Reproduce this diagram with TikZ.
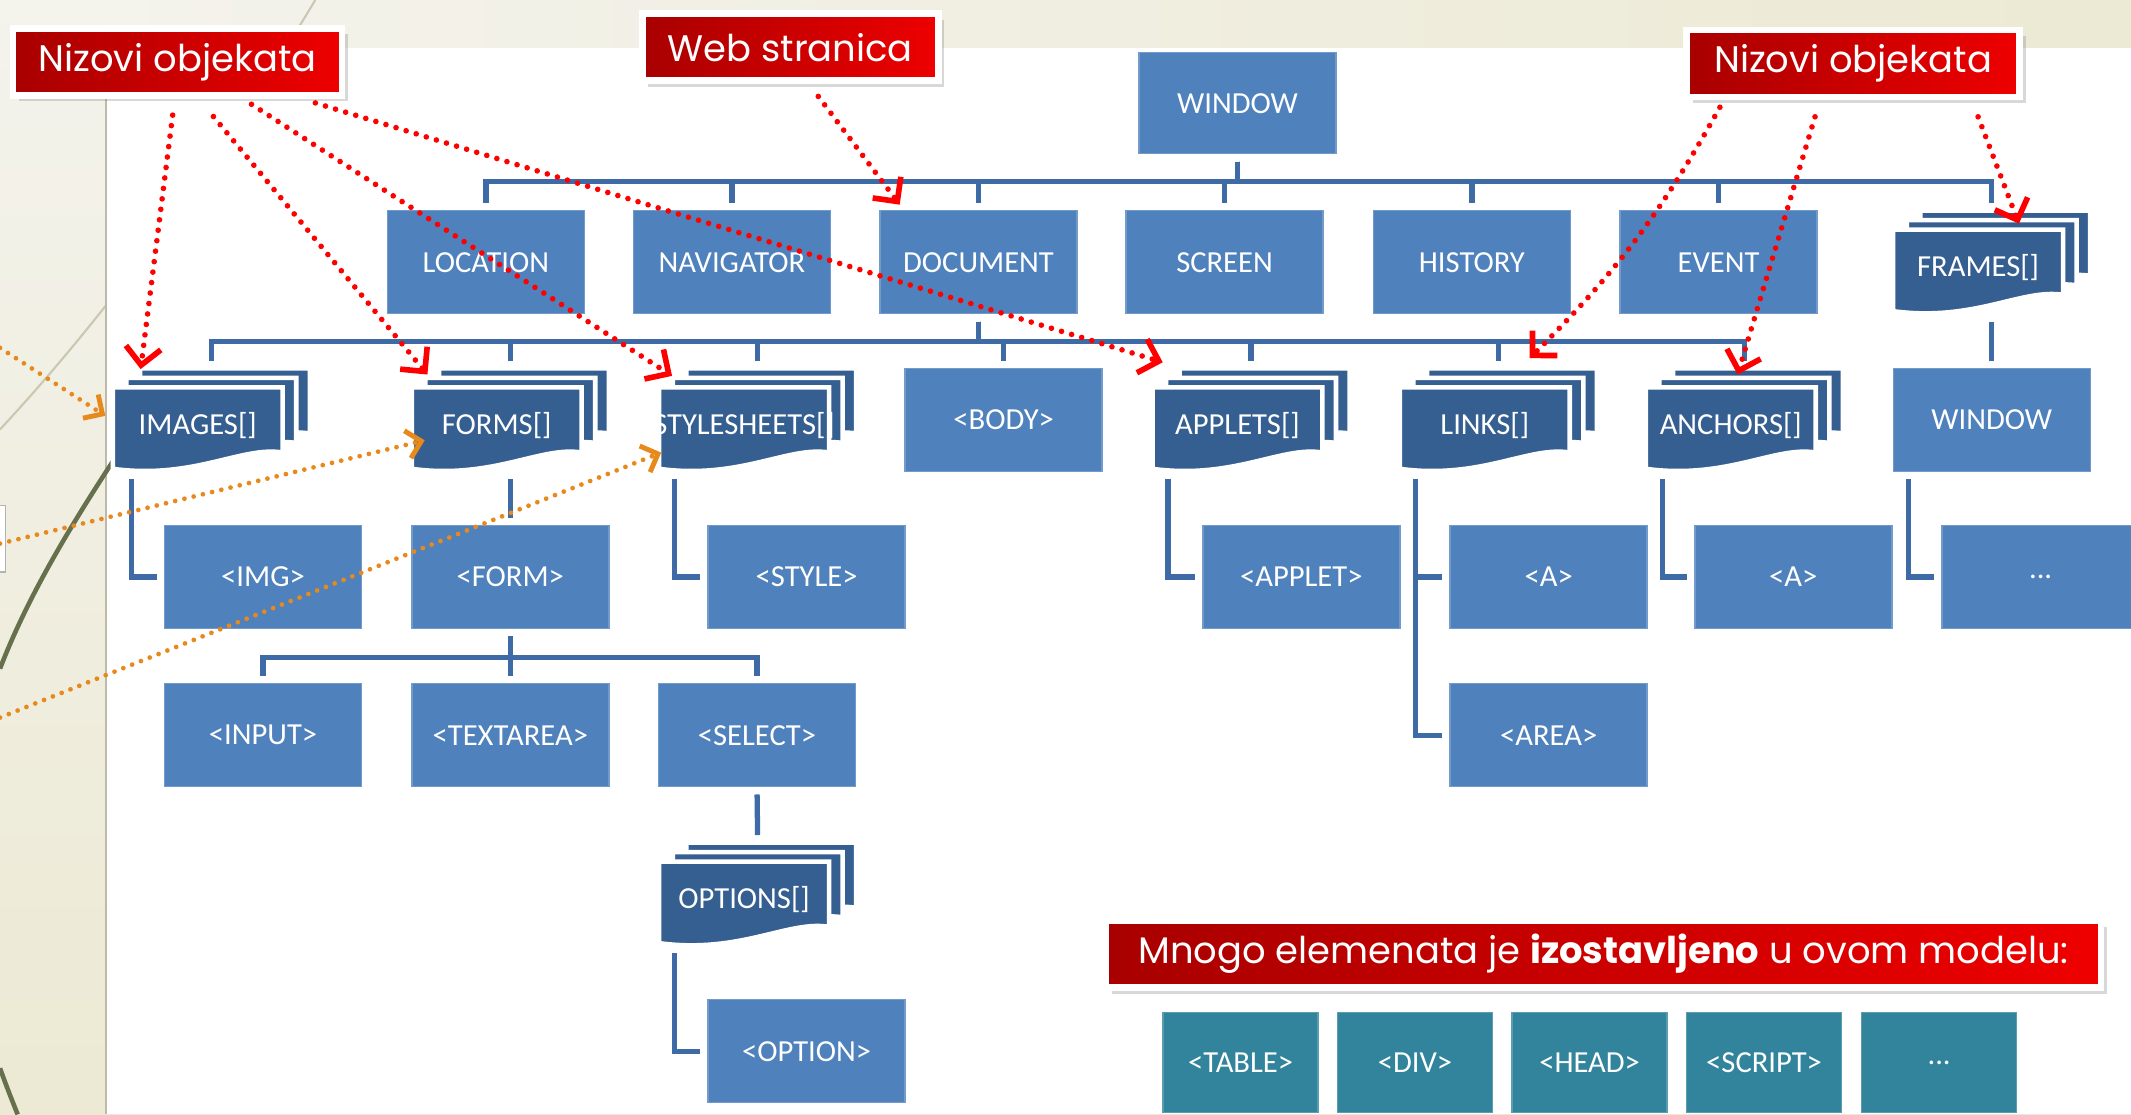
\documentclass[tikz,border=0pt]{standalone}
\usepackage{fontspec}
\setmainfont{Carlito}
\newfontfamily\calloutfont{Poppins}
\usetikzlibrary{arrows.meta,calc,shadows}

\definecolor{boxblue}{HTML}{4F81BD}
\definecolor{darkblue}{HTML}{355F91}
\definecolor{lineblue}{HTML}{3E6BA5}
\definecolor{tealfill}{HTML}{31849B}
\definecolor{calloutred}{HTML}{EE0000}
\definecolor{calloutdark}{HTML}{A80000}
\definecolor{hintorange}{HTML}{E8891C}
\definecolor{stripbeige}{HTML}{ECE9D4}
\definecolor{stripcream}{HTML}{F4F3EC}
\definecolor{swoosh}{HTML}{C9C8B0}
\definecolor{olive}{HTML}{66704C}

\tikzset{
  box/.style={fill=boxblue, draw=boxblue!80!white, line width=0.4pt,
    minimum width=19.7mm, minimum height=10.3mm, inner sep=0pt,
    text=white, font=\fontsize{8.7}{10}\selectfont},
  tealbox/.style={box, fill=tealfill, draw=tealfill!80!white,
    minimum width=15.5mm, minimum height=10mm},
  stackframe/.style={minimum width=19.7mm, minimum height=10.3mm, inner sep=0pt},
  stacklbl/.style={inner sep=0pt, text=white, font=\fontsize{8.7}{10}\selectfont},
  sheet/.style={fill=darkblue, draw=white, line width=1.3pt},
  conn/.style={draw=lineblue, line width=1.5pt, shorten <=2pt, shorten >=2pt},
  callout/.style={left color=calloutdark, right color=calloutred, draw=white,
    line width=0.68mm, minimum height=6.7mm, inner sep=0pt, text=white,
    font=\calloutfont\fontsize{10.5}{12}\selectfont,
    drop shadow={opacity=0.3, shadow xshift=0.6mm, shadow yshift=-0.6mm}},
  redarrow/.style={draw=red, line width=1.6pt, line cap=round,
    dash pattern=on 0pt off 3pt,
    -{Straight Barb[length=5pt, width=10pt, line width=1.6pt]}},
  hintarrow/.style={draw=hintorange, line width=1.35pt, line cap=round,
    dash pattern=on 0pt off 2.7pt,
    -{Straight Barb[length=4pt, width=8pt, line width=1.4pt]}}
}

% stack of sheets: name, x, y (top left), text
\newcommand{\stackbox}[4]{%
  \begin{scope}[shift={(#2,#3)}]
    \foreach \d in {20,10,0}
      \filldraw[sheet, shift={(\d,{14-0.7*\d})}] (0,0) -- (125,0) -- (125,48)
        .. controls (95,43) and (60,68) .. (0,60) -- cycle;
    \node[stackframe] (#1) at (72.5,38) {};
    \node[stacklbl] (#1-lbl) at (62.5,42) {#4};
  \end{scope}}

\begin{document}
\begin{tikzpicture}[x=0.1359mm, y=-0.1359mm]
  \useasboundingbox (0,0) rectangle (1568,820);

  % slide background
  \shade[top color=stripcream, bottom color=stripbeige] (0,0) rectangle (1568,820);
  \shade[left color=stripcream, right color=stripbeige] (78,0) rectangle (1568,35);
  \draw[swoosh, line width=0.6pt] (232,0) .. controls (160,120) and (80,230) .. (0,316);
  \fill[white] (78,35) rectangle (1568,820);
  \draw[stripbeige!80!black, line width=0.8pt] (78,35) -- (78,820);
  \draw[olive, line width=1.3pt] (84,338) .. controls (50,390) and (20,440) .. (0,492);
  \draw[olive, line width=1.3pt] (0,786) .. controls (5,800) and (9,810) .. (13,820);
  \filldraw[fill=white, draw=gray!60] (-3,372) rectangle (4,421);

  % level 0 and 1
  \node[box, minimum height=10.1mm] (window) at (910.5,76) {WINDOW};
  \node[box] (location) at (357.5,193) {LOCATION};
  \node[box] (navigator) at (538.5,193) {NAVIGATOR};
  \node[box] (document) at (720,193) {DOCUMENT};
  \node[box] (screen) at (901,193) {SCREEN};
  \node[box] (history) at (1083,193) {HISTORY};
  \node[box] (event) at (1264.5,193) {EVENT};
  \stackbox{frames}{1393}{155}{FRAMES[]}

  % level 2
  \stackbox{images}{83}{271}{IMAGES[]}
  \stackbox{forms}{303}{271}{FORMS[]}
  \stackbox{stylesheets}{485}{271}{STYLESHEETS[]}
  \node[box] (body) at (738.5,309) {<BODY>};
  \stackbox{applets}{848}{271}{APPLETS[]}
  \stackbox{links}{1030}{271}{LINKS[]}
  \stackbox{anchors}{1211}{271}{ANCHORS[]}
  \node[box] (framewin) at (1465.5,309) {WINDOW};

  % level 3 and 4
  \node[box] (img) at (193.5,424.5) {<IMG>};
  \node[box] (form) at (375.5,424.5) {<FORM>};
  \node[box] (style) at (593.5,424.5) {<STYLE>};
  \node[box] (applet) at (957.5,424.5) {<APPLET>};
  \node[box] (linka) at (1139.5,424.5) {<A>};
  \node[box] (anchora) at (1319.5,424.5) {<A>};
  \node[box] (more) at (1501.5,424.5) {...};
  \node[box] (input) at (193.5,541) {<INPUT>};
  \node[box] (textarea) at (375.5,541) {<TEXTAREA>};
  \node[box] (select) at (557,541) {<SELECT>};
  \node[box] (area) at (1139.5,541) {<AREA>};
  \stackbox{options}{485}{620}{OPTIONS[]}
  \node[box] (option) at (593.5,773.5) {<OPTION>};

  % tree lines
  \foreach \n in {location,navigator,document,screen,history,event,frames}
    \draw[conn] (window.south) -- ++(0,20) -| (\n.north);
  \foreach \n in {images,forms,stylesheets,body,applets,links,anchors}
    \draw[conn] (document.south) -- ++(0,20) -| (\n.north);
  \draw[conn] (frames.south) -- (framewin.north);
  \draw[conn] ($(images.south west)+(14,0)$) |- (img.west);
  \draw[conn] (forms.south) -- (form.north);
  \draw[conn] ($(stylesheets.south west)+(12,0)$) |- (style.west);
  \draw[conn] ($(applets.south west)+(12,0)$) |- (applet.west);
  \draw[conn] ($(links.south west)+(12,0)$) |- (linka.west);
  \draw[conn] ($(links.south west)+(12,0)$) |- (area.west);
  \draw[conn] ($(anchors.south west)+(13,0)$) |- (anchora.west);
  \draw[conn] ($(framewin.south west)+(12,0)$) |- (more.west);
  \foreach \n in {input,textarea,select}
    \draw[conn] (form.south) -- ++(0,21) -| (\n.north);
  \draw[conn] (select.south) -- (options.north);
  \draw[conn] ($(options.south west)+(12,0)$) |- (option.west);

  % omitted elements
  \node[tealbox] (table) at (912.8,782) {<TABLE>};
  \node[tealbox] (div) at (1041.2,782) {<DIV>};
  \node[tealbox] (head) at (1169.6,782) {<HEAD>};
  \node[tealbox] (script) at (1298,782) {<SCRIPT>};
  \node[tealbox] (etc) at (1426.8,782) {...};

  % callouts
  \node[callout, minimum width=32.9mm] (nizL) at (130.6,45.6) {Nizovi objekata};
  \node[callout, minimum width=29.6mm] (web) at (581.5,34.8) {Web stranica};
  \node[callout, minimum width=33.3mm] (nizR) at (1363.5,46.8) {Nizovi objekata};
  \node[callout, minimum width=99.5mm] (omitted) at (1179.8,702)
    {Mnogo elemenata je \textbf{izostavljeno} u ovom modelu:};

  % red pointers
  \draw[redarrow] ($(nizL.south west)+(120,12)$) -- ($(images.north west)+(21,1)$);
  \draw[redarrow] ($(nizL.south west)+(150,13)$) -- ($(forms.north west)+(12,5)$);
  \draw[redarrow] ($(nizL.south west)+(178,4)$) -- ($(stylesheets.north west)+(10,6)$);
  \draw[redarrow] ($(nizL.south west)+(225,3)$) -- ($(applets.north west)+(8,-4)$);
  \draw[redarrow] ($(web.south west)+(132,9)$) -- ($(document.north west)+(15,-4)$);
  \draw[redarrow] ($(nizR.south west)+(27,5)$) to[bend left=8] ($(links.north)+(23,-7)$);
  \draw[redarrow] ($(nizR.south west)+(97,12)$) -- ($(anchors.north)+(-5,5)$);
  \draw[redarrow] ($(nizR.south west)+(217,12)$) -- ($(frames.north west)+(93,10)$);

  % orange pointers from the left
  \coordinate (hintA) at (0,256);
  \coordinate (hintB) at (0,400);
  \coordinate (hintC) at (0,528);
  \draw[hintarrow] (hintA) -- ($(images.west)+(-5,-3)$);
  \draw[hintarrow] (hintB) -- ($(forms.west)+(10,15)$);
  \draw[hintarrow] (hintC) -- ($(stylesheets.west)+(2,24)$);
\end{tikzpicture}
\end{document}
